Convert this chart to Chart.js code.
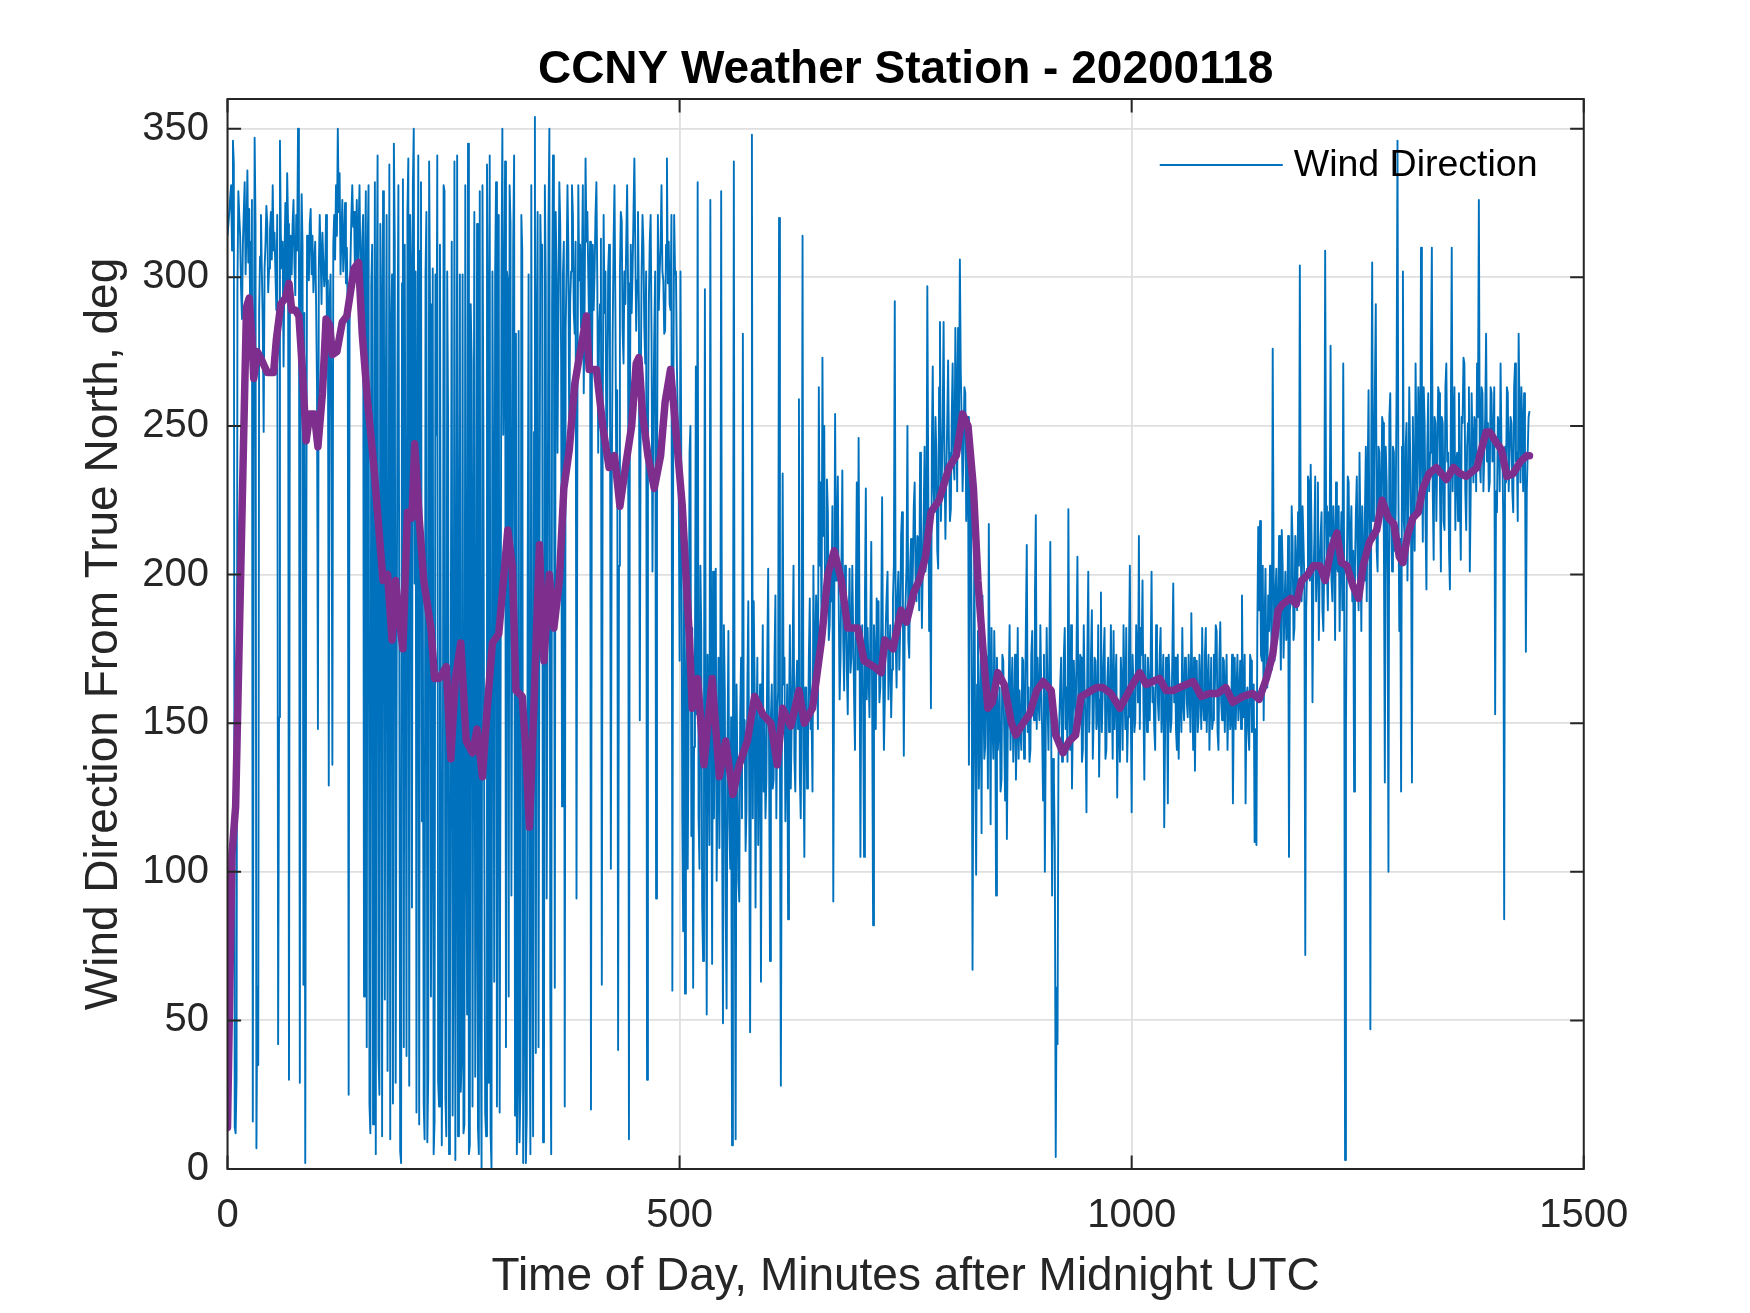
<!DOCTYPE html>
<html>
<head>
<meta charset="utf-8">
<title>CCNY Weather Station - 20200118</title>
<script src="https://cdn.jsdelivr.net/npm/chart.js@4.4.1/dist/chart.umd.min.js"></script>
<style>
  html, body { margin: 0; padding: 0; background: #ffffff; overflow: hidden; }
  #c { display: block; width: 1750px; height: 1313px; }
</style>
</head>
<body>
<canvas id="c" width="1750" height="1313"></canvas>
<script>
// ---------------- DATA ----------------
const chartTitle = 'CCNY Weather Station - 20200118';
const xAxisTitle = 'Time of Day, Minutes after Midnight UTC';
const yAxisTitle = 'Wind Direction From True North, deg';
const windLabel = 'Wind Direction';
const smoothLabel = 'Smoothed Wind Direction';

const xTickValues = [0, 500, 1000, 1500];
const xTickLabels = ['0', '500', '1000', '1500'];
const yTickValues = [0, 50, 100, 150, 200, 250, 300, 350];
const yTickLabels = ['0', '50', '100', '150', '200', '250', '300', '350'];

// wind direction samples, one per minute from minute 0 to 1440 (20 per row)
const SAMPLE_STEP_MIN = 1;
const windDirection = [
  314, 318, 322, 327, 331, 309, 346, 338, 14, 12, 30, 297, 329, 321, 314, 296, 286, 311, 322, 332,
  301, 315, 336, 305, 323, 291, 312, 326, 16, 238, 347, 318, 7, 61, 35, 289, 307, 321, 302, 284,
  248, 303, 311, 324, 318, 295, 303, 316, 322, 306, 331, 309, 315, 302, 289, 321, 42, 152, 346, 314,
  303, 312, 270, 306, 325, 298, 335, 318, 30, 292, 314, 301, 318, 326, 305, 294, 321, 309, 350, 319,
  29, 302, 328, 311, 62, 288, 2, 187, 314, 304, 299, 318, 323, 301, 314, 295, 305, 312, 291, 262,
  148, 303, 321, 308, 291, 315, 305, 297, 302, 321, 281, 299, 129, 292, 301, 253, 136, 311, 321, 306,
  331, 314, 350, 322, 335, 301, 314, 326, 302, 311, 325, 298, 310, 287, 25, 283, 305, 321, 331, 317,
  322, 301, 311, 326, 298, 316, 331, 304, 289, 312, 321, 58, 303, 329, 41, 309, 331, 22, 12, 297,
  311, 15, 203, 332, 5, 288, 341, 38, 25, 318, 291, 11, 329, 302, 57, 252, 321, 33, 148, 338,
  10, 283, 301, 22, 345, 312, 29, 154, 270, 331, 182, 6, 2, 298, 333, 41, 311, 203, 38, 322,
  340, 28, 321, 303, 88, 331, 350, 197, 302, 19, 251, 341, 15, 309, 332, 117, 203, 22, 10, 301,
  322, 9, 31, 339, 291, 58, 121, 303, 5, 16, 301, 247, 341, 29, 21, 311, 153, 8, 62, 331,
  329, 24, 11, 302, 251, 5, 43, 178, 312, 18, 81, 339, 3, 123, 341, 11, 182, 301, 26, 38,
  301, 12, 15, 331, 118, 52, 345, 5, 8, 291, 271, 21, 199, 322, 31, 97, 318, 14, 5, 329,
  61, 0, 331, 248, 112, 19, 11, 338, 291, 29, 341, 12, 0, 302, 219, 63, 301, 332, 21, 148,
  321, 19, 152, 301, 350, 247, 281, 339, 41, 302, 299, 58, 331, 318, 92, 203, 311, 341, 18, 281,
  5, 31, 282, 9, 28, 321, 309, 2, 153, 61, 2, 18, 202, 301, 59, 5, 331, 102, 11, 248,
  354, 39, 282, 322, 41, 198, 321, 302, 311, 9, 21, 331, 298, 91, 182, 319, 350, 61, 5, 291,
  341, 302, 61, 322, 299, 241, 291, 332, 318, 272, 122, 301, 312, 21, 283, 302, 331, 309, 243, 292,
  302, 331, 321, 288, 281, 312, 91, 252, 331, 299, 311, 283, 302, 331, 261, 292, 340, 312, 322, 301,
  281, 312, 20, 262, 311, 289, 302, 321, 332, 298, 241, 282, 291, 313, 62, 253, 321, 288, 302, 243,
  251, 302, 311, 272, 101, 232, 281, 312, 331, 289, 231, 262, 40, 203, 301, 322, 319, 282, 271, 302,
  291, 312, 331, 298, 10, 252, 311, 288, 302, 321, 340, 311, 282, 299, 322, 291, 151, 262, 302, 321,
  311, 283, 271, 302, 30, 243, 291, 312, 321, 279, 201, 252, 281, 302, 91, 222, 321, 289, 302, 311,
  331, 302, 299, 281, 282, 311, 340, 298, 312, 291, 289, 321, 60, 252, 321, 301, 302, 271, 252, 231,
  171, 302, 231, 118, 80, 203, 59, 152, 198, 101, 153, 241, 250, 112, 182, 61, 142, 171, 270, 153,
  332, 118, 101, 203, 181, 88, 70, 152, 296, 138, 52, 173, 148, 109, 326, 162, 69, 201, 118, 151,
  202, 97, 131, 172, 108, 153, 329, 118, 49, 183, 161, 88, 54, 142, 181, 117, 101, 152, 8, 133,
  339, 108, 10, 163, 131, 97, 90, 152, 172, 118, 281, 142, 151, 107, 121, 163, 191, 128, 46, 153,
  348, 118, 191, 162, 88, 143, 172, 109, 138, 163, 63, 148, 183, 127, 152, 118, 131, 173, 202, 138,
  70, 152, 163, 128, 131, 172, 193, 118, 152, 161, 320, 142, 28, 127, 234, 163, 172, 117, 141, 163,
  84, 152, 183, 128, 151, 172, 203, 138, 127, 162, 171, 148, 259, 132, 118, 163, 314, 138, 105, 162,
  162, 128, 141, 173, 192, 148, 152, 127, 203, 161, 172, 193, 181, 148, 263, 203, 231, 178, 273, 213,
  250, 187, 203, 232, 221, 178, 183, 203, 191, 223, 90, 182, 254, 198, 212, 233, 191, 158, 172, 203,
  235, 178, 161, 203, 192, 168, 153, 183, 202, 167, 172, 203, 181, 158, 141, 193, 231, 168, 246, 183,
  105, 172, 183, 158, 105, 193, 229, 158, 182, 167, 152, 183, 211, 157, 82, 183, 172, 148, 192, 168,
  191, 157, 162, 183, 226, 168, 141, 158, 182, 193, 201, 158, 172, 183, 152, 168, 192, 203, 292, 178,
  162, 193, 201, 168, 182, 213, 221, 187, 139, 183, 191, 203, 250, 178, 172, 203, 212, 188, 201, 223,
  231, 198, 191, 213, 212, 188, 241, 218, 182, 203, 221, 243, 201, 208, 297, 233, 181, 212, 155, 243,
  270, 228, 221, 253, 241, 208, 202, 263, 285, 218, 232, 252, 285, 238, 212, 233, 251, 272, 241, 218,
  222, 253, 271, 238, 232, 283, 261, 228, 283, 252, 306, 268, 251, 228, 242, 263, 261, 218, 232, 253,
  136, 218, 241, 178, 67, 152, 211, 138, 99, 163, 181, 128, 152, 172, 113, 193, 161, 138, 142, 173,
  171, 128, 217, 163, 116, 182, 151, 138, 181, 163, 92, 172, 141, 148, 162, 127, 131, 173, 171, 148,
  124, 163, 111, 148, 162, 183, 141, 158, 172, 137, 151, 173, 131, 148, 182, 138, 161, 147, 141, 172,
  171, 138, 152, 183, 210, 147, 162, 137, 141, 173, 181, 158, 151, 193, 220, 148, 172, 157, 151, 183,
  162, 147, 124, 173, 100, 148, 182, 157, 141, 173, 211, 148, 92, 138, 131, 108, 4, 61, 42, 138,
  151, 163, 172, 137, 141, 173, 182, 148, 162, 137, 222, 157, 141, 183, 128, 152, 171, 158, 151, 173,
  206, 157, 151, 173, 172, 137, 141, 183, 161, 148, 120, 173, 201, 147, 162, 173, 188, 138, 152, 172,
  171, 148, 152, 183, 132, 158, 194, 147, 161, 173, 182, 138, 141, 163, 172, 147, 151, 183, 162, 138,
  181, 148, 162, 173, 125, 158, 151, 137, 172, 163, 141, 183, 161, 148, 182, 137, 152, 173, 203, 157,
  120, 173, 162, 147, 151, 183, 172, 157, 213, 148, 182, 173, 198, 157, 131, 173, 161, 147, 172, 163,
  151, 172, 201, 157, 162, 148, 141, 183, 172, 157, 151, 173, 182, 147, 161, 173, 115, 148, 172, 163,
  123, 173, 162, 147, 151, 173, 197, 157, 172, 148, 141, 173, 138, 162, 161, 147, 182, 157, 151, 172,
  171, 157, 152, 173, 161, 147, 187, 163, 141, 172, 134, 163, 171, 147, 152, 173, 161, 148, 182, 157,
  151, 173, 182, 147, 162, 173, 141, 157, 172, 148, 151, 173, 161, 183, 181, 147, 141, 172, 184, 157,
  151, 172, 171, 147, 162, 173, 141, 158, 161, 148, 152, 173, 123, 157, 172, 148, 161, 173, 151, 158,
  171, 148, 193, 157, 152, 173, 123, 158, 162, 147, 141, 173, 171, 147, 152, 163, 110, 148, 109, 183,
  216, 188, 218, 173, 171, 203, 151, 183, 202, 168, 162, 193, 181, 203, 191, 168, 276, 203, 171, 193,
  202, 178, 182, 213, 191, 168, 215, 203, 172, 188, 201, 178, 182, 213, 105, 188, 191, 223, 211, 178,
  182, 213, 201, 188, 221, 203, 304, 208, 191, 223, 211, 198, 72, 188, 202, 233, 231, 198, 237, 212,
  157, 198, 211, 233, 191, 203, 231, 178, 202, 213, 221, 188, 181, 203, 309, 223, 201, 188, 221, 213,
  277, 198, 191, 223, 211, 178, 231, 203, 201, 223, 181, 208, 221, 188, 271, 203, 3, 148, 202, 233,
  231, 198, 211, 223, 191, 208, 127, 203, 221, 233, 201, 188, 241, 213, 181, 223, 211, 198, 221, 243,
  191, 233, 262, 208, 47, 243, 305, 218, 231, 263, 291, 208, 201, 243, 241, 218, 221, 253, 251, 208,
  130, 243, 231, 198, 100, 253, 261, 218, 201, 243, 241, 208, 221, 263, 346, 228, 181, 212, 127, 243,
  302, 218, 211, 243, 251, 198, 221, 263, 241, 218, 130, 253, 231, 208, 271, 243, 221, 263, 251, 228,
  310, 243, 211, 263, 251, 218, 195, 243, 261, 228, 241, 273, 310, 228, 205, 253, 251, 218, 241, 263,
  261, 228, 201, 253, 251, 218, 215, 263, 271, 238, 241, 208, 195, 253, 310, 228, 251, 263, 215, 238,
  241, 218, 261, 228, 205, 253, 251, 273, 271, 228, 215, 243, 251, 263, 201, 228, 261, 243, 231, 253,
  251, 228, 271, 253, 326, 238, 231, 263, 261, 228, 241, 253, 281, 238, 251, 228, 231, 263, 261, 238,
  241, 263, 153, 228, 221, 253, 251, 228, 271, 243, 241, 218, 84, 243, 231, 263, 261, 228, 241, 253,
  251, 228, 221, 263, 271, 238, 241, 218, 281, 253, 231, 263, 251, 228, 261, 243, 174, 228, 241, 253,
  255
];

// smoothed (purple) curve
const smoothMinutes = [
  0, 5, 9, 13, 17, 21, 24, 27, 29, 33, 38, 44, 51, 54, 59, 64, 68, 71, 75, 79,
  83, 87, 91, 96, 100, 105, 109, 113, 116, 121, 127, 132, 136, 140, 145, 149, 155, 162, 168, 172,
  177, 182, 186, 190, 194, 199, 204, 207, 212, 217, 225, 229, 234, 238, 242, 247, 252, 258, 264, 271,
  276, 282, 287, 293, 300, 304, 310, 315, 319, 326, 330, 334, 339, 345, 350, 356, 361, 367, 372, 378,
  384, 389, 393, 397, 400, 408, 415, 422, 428, 434, 441, 447, 452, 455, 459, 465, 472, 479, 484, 490,
  496, 503, 507, 511, 514, 520, 527, 536, 544, 551, 559, 566, 575, 583, 592, 601, 608, 614, 623, 632,
  638, 647, 657, 664, 671, 679, 686, 697, 704, 715, 723, 727, 736, 745, 751, 759, 765, 772, 778, 787,
  798, 806, 813, 819, 825, 830, 836, 841, 846, 852, 859, 867, 872, 880, 887, 895, 902, 911, 916, 924,
  931, 938, 944, 950, 961, 968, 977, 987, 994, 1001, 1009, 1016, 1023, 1031, 1038, 1046, 1053, 1068, 1077, 1086,
  1095, 1104, 1112, 1123, 1134, 1141, 1149, 1156, 1162, 1167, 1176, 1182, 1188, 1195, 1201, 1208, 1214, 1221, 1227, 1232,
  1238, 1245, 1251, 1256, 1263, 1271, 1277, 1284, 1290, 1296, 1300, 1305, 1311, 1317, 1322, 1329, 1337, 1348, 1356, 1363,
  1370, 1382, 1385, 1392, 1396, 1402, 1409, 1415, 1422, 1430, 1437, 1440
];
const smoothDirection = [
  14, 106, 122, 178, 234, 290, 293, 280, 266, 275, 272, 268, 268, 279, 291, 293, 298, 289, 289, 287,
  268, 245, 254, 254, 243, 261, 286, 284, 274, 275, 285, 287, 295, 303, 305, 281, 258, 236, 213, 198,
  200, 178, 198, 185, 175, 221, 219, 244, 219, 198, 182, 165, 165, 167, 169, 138, 165, 177, 144, 140,
  148, 132, 154, 177, 180, 194, 215, 203, 161, 159, 140, 115, 157, 210, 171, 200, 182, 198, 229, 242,
  264, 273, 280, 287, 269, 269, 250, 236, 240, 223, 238, 250, 271, 273, 254, 240, 229, 240, 258, 269,
  248, 223, 200, 178, 155, 165, 136, 165, 132, 144, 126, 136, 144, 159, 153, 150, 136, 155, 149, 161,
  150, 155, 178, 200, 208, 198, 182, 182, 171, 169, 167, 178, 175, 188, 184, 194, 198, 206, 221, 225,
  236, 240, 254, 250, 229, 198, 173, 155, 157, 167, 163, 150, 146, 150, 153, 161, 164, 161, 146, 140,
  144, 146, 159, 160, 162, 162, 160, 155, 159, 163, 167, 163, 164, 165, 161, 161, 162, 164, 159, 160,
  160, 162, 157, 159, 160, 158, 165, 173, 188, 190, 192, 190, 198, 200, 203, 203, 198, 209, 214, 204,
  203, 196, 192, 203, 211, 215, 225, 219, 217, 206, 204, 213, 219, 221, 229, 234, 236, 232, 236, 234,
  233, 236, 240, 248, 248, 245, 242, 233, 234, 238, 240, 240
];

// ---------------- build library structures ----------------
const windPoints = windDirection.map((v, i) => ({ x: i * SAMPLE_STEP_MIN, y: v }));
const smoothPoints = smoothMinutes.map((m, i) => ({ x: m, y: smoothDirection[i] }));

const FONT = "'Liberation Sans', Arial, Helvetica, sans-serif";
Chart.defaults.font.family = FONT;
Chart.defaults.color = '#262626';

const AXIS_COLOR = '#262626';
const GRID_COLOR = '#dfdfdf';
const BLUE = '#0072BD';
const PURPLE = '#7E2F8E';

const boxPlugin = {
  id: 'matlabBox',
  afterDatasetsDraw(chart) {
    const { ctx, chartArea: a, scales } = chart;
    const xs = scales.x, ys = scales.y;
    ctx.save();
    // inward tick marks on all four sides
    const tl = 13.6;
    ctx.strokeStyle = AXIS_COLOR;
    ctx.lineWidth = 2;
    ctx.beginPath();
    xTickValues.forEach(v => {
      const px = xs.getPixelForValue(v);
      ctx.moveTo(px, a.bottom); ctx.lineTo(px, a.bottom - tl);
      ctx.moveTo(px, a.top); ctx.lineTo(px, a.top + tl);
    });
    yTickValues.forEach(v => {
      const py = ys.getPixelForValue(v);
      ctx.moveTo(a.left, py); ctx.lineTo(a.left + tl, py);
      ctx.moveTo(a.right, py); ctx.lineTo(a.right - tl, py);
    });
    ctx.stroke();
    // axes box
    ctx.strokeRect(a.left, a.top, a.right - a.left, a.bottom - a.top);

    // legend (no frame, transparent, only the wind series)
    const ds = chart.data.datasets.find(d => d.showInLegend);
    if (ds) {
      const ly = a.top + 66;
      const lx0 = a.right - 424;
      const lx1 = a.right - 301;
      ctx.strokeStyle = ds.borderColor;
      ctx.lineWidth = 2;
      ctx.beginPath();
      ctx.moveTo(lx0, ly); ctx.lineTo(lx1, ly);
      ctx.stroke();
      ctx.fillStyle = '#000000';
      ctx.font = '37.5px ' + FONT;
      ctx.textAlign = 'left';
      ctx.textBaseline = 'middle';
      ctx.fillText(ds.label, a.right - 290, ly + 1);
    }
    ctx.restore();
  }
};

new Chart(document.getElementById('c'), {
  type: 'line',
  data: {
    datasets: [
      {
        label: smoothLabel,
        data: smoothPoints,
        borderColor: PURPLE,
        backgroundColor: PURPLE,
        borderWidth: 7.5,
        pointRadius: 0,
        tension: 0,
        fill: false,
        borderJoinStyle: 'round',
        borderCapStyle: 'round',
        order: 1,
        showInLegend: false
      },
      {
        label: windLabel,
        data: windPoints,
        borderColor: BLUE,
        backgroundColor: BLUE,
        borderWidth: 1.9,
        pointRadius: 0,
        tension: 0,
        fill: false,
        borderJoinStyle: 'round',
        order: 2,
        showInLegend: true
      }
    ]
  },
  options: {
    responsive: false,
    animation: false,
    devicePixelRatio: 1,
    layout: { padding: { left: 0, right: 166.25, top: 0, bottom: 0 } },
    plugins: {
      legend: { display: false },
      tooltip: { enabled: false },
      title: {
        display: true,
        text: chartTitle,
        position: 'top',
        fullSize: false,
        color: '#000000',
        font: { family: FONT, size: 46, weight: 'bold', lineHeight: 1.2 },
        padding: { top: 42.8, bottom: 1.0 }
      }
    },
    scales: {
      x: {
        type: 'linear',
        min: 0,
        max: 1500,
        afterBuildTicks(scale) { scale.ticks = xTickValues.map(v => ({ value: v })); },
        afterFit(scale) { scale.height = 144; },
        ticks: {
          autoSkip: false,
          maxRotation: 0,
          padding: 23,
          color: AXIS_COLOR,
          font: { size: 40 },
          callback: (v) => xTickLabels[xTickValues.indexOf(v)]
        },
        grid: { color: GRID_COLOR, lineWidth: 1.8, drawTicks: false },
        border: { display: false },
        title: {
          display: true,
          text: xAxisTitle,
          color: AXIS_COLOR,
          font: { size: 46, lineHeight: 1.2 },
          padding: { top: 0, bottom: 8.3 }
        }
      },
      y: {
        type: 'linear',
        min: 0,
        max: 360,
        afterBuildTicks(scale) { scale.ticks = yTickValues.map(v => ({ value: v })); },
        afterFit(scale) { scale.width = 227.5; },
        ticks: {
          autoSkip: false,
          padding: 18.5,
          color: AXIS_COLOR,
          font: { size: 40 },
          callback: (v) => yTickLabels[yTickValues.indexOf(v)]
        },
        grid: { color: GRID_COLOR, lineWidth: 1.8, drawTicks: false },
        border: { display: false },
        title: {
          display: true,
          text: yAxisTitle,
          color: AXIS_COLOR,
          font: { size: 46, lineHeight: 1.2 },
          padding: { top: 76.4, bottom: 0 }
        }
      }
    }
  },
  plugins: [boxPlugin]
});
</script>
</body>
</html>
